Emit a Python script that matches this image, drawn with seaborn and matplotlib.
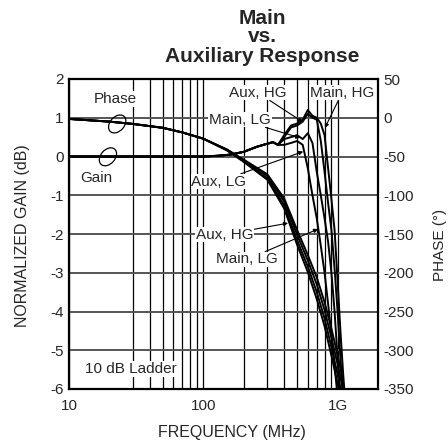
import numpy as np
import pandas as pd
import matplotlib
matplotlib.use("Agg")
import matplotlib.pyplot as plt
import seaborn as sns
from matplotlib.ticker import FixedLocator, NullFormatter, FixedFormatter
from matplotlib.patches import Ellipse

# ---------------- data ----------------
freq_phase = [10, 20, 30, 50, 70, 100, 150, 200, 300, 400, 500, 600, 700, 800, 900, 1000, 1100]
phase_main_hg = [-1.5, -5, -8, -13, -19, -27, -41, -54, -73, -104, -145, -177, -206, -238, -272, -306, -340]
phase_aux_hg = [-1.5, -5, -8, -13, -19, -27, -41, -55, -75, -108, -151, -184, -215, -248, -284, -318, -352]
phase_main_lg = [-1.5, -5, -8, -13, -19, -27, -42, -56, -78, -113, -158, -192, -225, -259, -296, -331, -366]
phase_aux_lg = [-1.5, -5, -8, -13, -19, -27, -42, -57, -80, -117, -164, -199, -234, -269, -307, -343, -378]

freq_gain = [10, 20, 50, 100, 130, 160, 200, 250, 300, 330, 360, 400, 450, 500, 550, 600,
             650, 700, 750, 800, 850, 900, 950, 1000, 1050, 1100, 1150]
gain_main_hg = [0, 0, 0, 0, 0.02, 0.05, 0.12, 0.25, 0.33, 0.37, 0.3, 0.55, 0.8, 0.85, 0.95, 1.2,
                1.05, 1.0, 0.85, 0.55, -0.3, -1.1, -1.9, -3.2, -4.5, -5.6, -6.5]
gain_aux_hg = [0, 0, 0, 0, 0.02, 0.05, 0.12, 0.25, 0.33, 0.37, 0.3, 0.5, 0.75, 0.8, 0.9, 1.1,
               1.0, 0.95, 0.4, -0.4, -1.2, -1.9, -2.9, -4.0, -5.2, -6.3, -6.6]
gain_main_lg = [0, 0, 0, 0, 0.02, 0.05, 0.12, 0.25, 0.33, 0.37, 0.3, 0.45, 0.5, 0.55, 0.45, 0.6,
                0.35, -0.4, -1.0, -1.6, -2.2, -3.0, -4.0, -5.2, -6.3, -6.6, -6.6]
gain_aux_lg = [0, 0, 0, 0, 0.02, 0.05, 0.12, 0.25, 0.33, 0.37, 0.3, 0.3, 0.35, 0.4, 0.3, -0.3,
               -1.0, -1.6, -2.3, -3.0, -3.8, -4.6, -5.4, -6.2, -6.6, -6.6, -6.6]

x_ticks = [10, 100, 1000]
x_tick_labels = ["10", "100", "1G"]
x_minor = [30, 40, 50, 60, 70, 80, 90, 200, 300, 400, 500, 600, 700, 800, 900]
gain_ticks = [-6, -5, -4, -3, -2, -1, 0, 1, 2]
phase_ticks = [-350, -300, -250, -200, -150, -100, -50, 0, 50]

# ---------------- style ----------------
sns.set_style("white")
plt.rcParams["font.family"] = ["Liberation Sans", "DejaVu Sans"]

fig = plt.figure(figsize=(4.48, 4.43), dpi=100)
ax = fig.add_axes([69 / 448, 1 - 389 / 443, 309 / 448, 310 / 443])

gain_df = pd.concat([
    pd.DataFrame({"f": freq_gain, "g": v, "s": n})
    for n, v in [("Main, HG", gain_main_hg), ("Aux, HG", gain_aux_hg),
                 ("Main, LG", gain_main_lg), ("Aux, LG", gain_aux_lg)]
])
phase_df = pd.concat([
    pd.DataFrame({"f": freq_phase, "p": v, "s": n})
    for n, v in [("Main, HG", phase_main_hg), ("Aux, HG", phase_aux_hg),
                 ("Main, LG", phase_main_lg), ("Aux, LG", phase_aux_lg)]
])

pal = {"Main, HG": "black", "Aux, HG": "black", "Main, LG": "black", "Aux, LG": "black"}
sns.lineplot(data=gain_df, x="f", y="g", hue="s", palette=pal, ax=ax, legend=False,
             linewidth=1.4, estimator=None, sort=False, zorder=5)
ax.set_xscale("log")
ax.set_xlim(10, 2000)
ax.set_ylim(-6, 2)

ax.xaxis.set_major_locator(FixedLocator(x_ticks))
ax.xaxis.set_major_formatter(FixedFormatter(x_tick_labels))
ax.xaxis.set_minor_locator(FixedLocator(x_minor))
ax.xaxis.set_minor_formatter(NullFormatter())
ax.set_yticks(gain_ticks)
ax.set_yticklabels([str(t) for t in gain_ticks])
ax.grid(True, axis="x", which="both", color="black", linewidth=0.9, zorder=1)
ax.grid(True, axis="y", which="major", color="#555555", linewidth=1.4, zorder=1)
ax.set_axisbelow(True)
ax.tick_params(axis="y", which="both", length=0, labelsize=11, pad=4)
ax.tick_params(axis="x", which="both", length=0, labelsize=11, pad=7)

for sp in ax.spines.values():
    sp.set_color("black")
    sp.set_linewidth(1.6)

ax2 = ax.twinx()
sns.lineplot(data=phase_df, x="f", y="p", hue="s", palette=pal, ax=ax2, legend=False,
             linewidth=1.4, estimator=None, sort=False)
ax2.set_ylim(-350, 50)
ax2.set_yticks(phase_ticks)
ax2.set_yticklabels([str(t) for t in phase_ticks])
ax2.tick_params(axis="y", length=0, labelsize=11, pad=4)
ax2.set_ylabel("")
ax.set_ylabel("")
ax.set_xlabel("")
for sp in ax2.spines.values():
    sp.set_visible(False)

# labels
fig.text(23 / 448, 1 - 236 / 443, "NORMALIZED GAIN (dB)", rotation=90, ha="center", va="center", fontsize=11.5)
fig.text(440 / 448, 1 - 245 / 443, "PHASE (°)", rotation=90, ha="center", va="center", fontsize=11)
fig.text(232 / 448, 1 - 432 / 443, "FREQUENCY (MHz)", ha="center", va="center", fontsize=11.5)
fig.text(262 / 448, 1 - 37 / 443, "Main\nvs.\nAuxiliary Response", ha="center", va="center",
         fontsize=15, fontweight="bold", linespacing=1.0)

box = dict(facecolor="white", edgecolor="none", pad=0.6)
ap = dict(arrowstyle="-|>", color="black", lw=0.8, mutation_scale=6, shrinkA=0, shrinkB=0)
fs = 11

def lab(txt, x, y):
    ax2.text(x, y, txt, transform=ax2.transAxes, ha="center", va="center", fontsize=fs,
             bbox=box, zorder=3)

def ann(txt, xt, yt, xa, ya):
    ax2.annotate(txt, xy=(xa, ya), xytext=(xt, yt), xycoords="axes fraction",
                 textcoords="axes fraction", ha="center", va="center", fontsize=fs,
                 bbox=box, arrowprops=ap, zorder=3)

lab("Phase", 0.149, 0.935)
lab("Gain", 0.09, 0.68)
lab("10 dB Ladder", 0.2, 0.065)
ann("Aux, HG", 0.611, 0.956, 0.757, 0.861)
ann("Main, HG", 0.884, 0.956, 0.828, 0.842)
ann("Main, LG", 0.553, 0.869, 0.748, 0.81)
ann("Aux, LG", 0.485, 0.669, 0.758, 0.766)
ann("Aux, HG", 0.503, 0.498, 0.709, 0.535)
ann("Main, LG", 0.576, 0.418, 0.806, 0.516)

for cx, cy in [(0.156, 0.855), (0.126, 0.749)]:
    ax2.add_patch(Ellipse((cx, cy), 0.066, 0.046, angle=48, transform=ax2.transAxes,
                          fill=False, edgecolor="black", lw=0.9, zorder=6))

fig.savefig("out.png", dpi=100)
